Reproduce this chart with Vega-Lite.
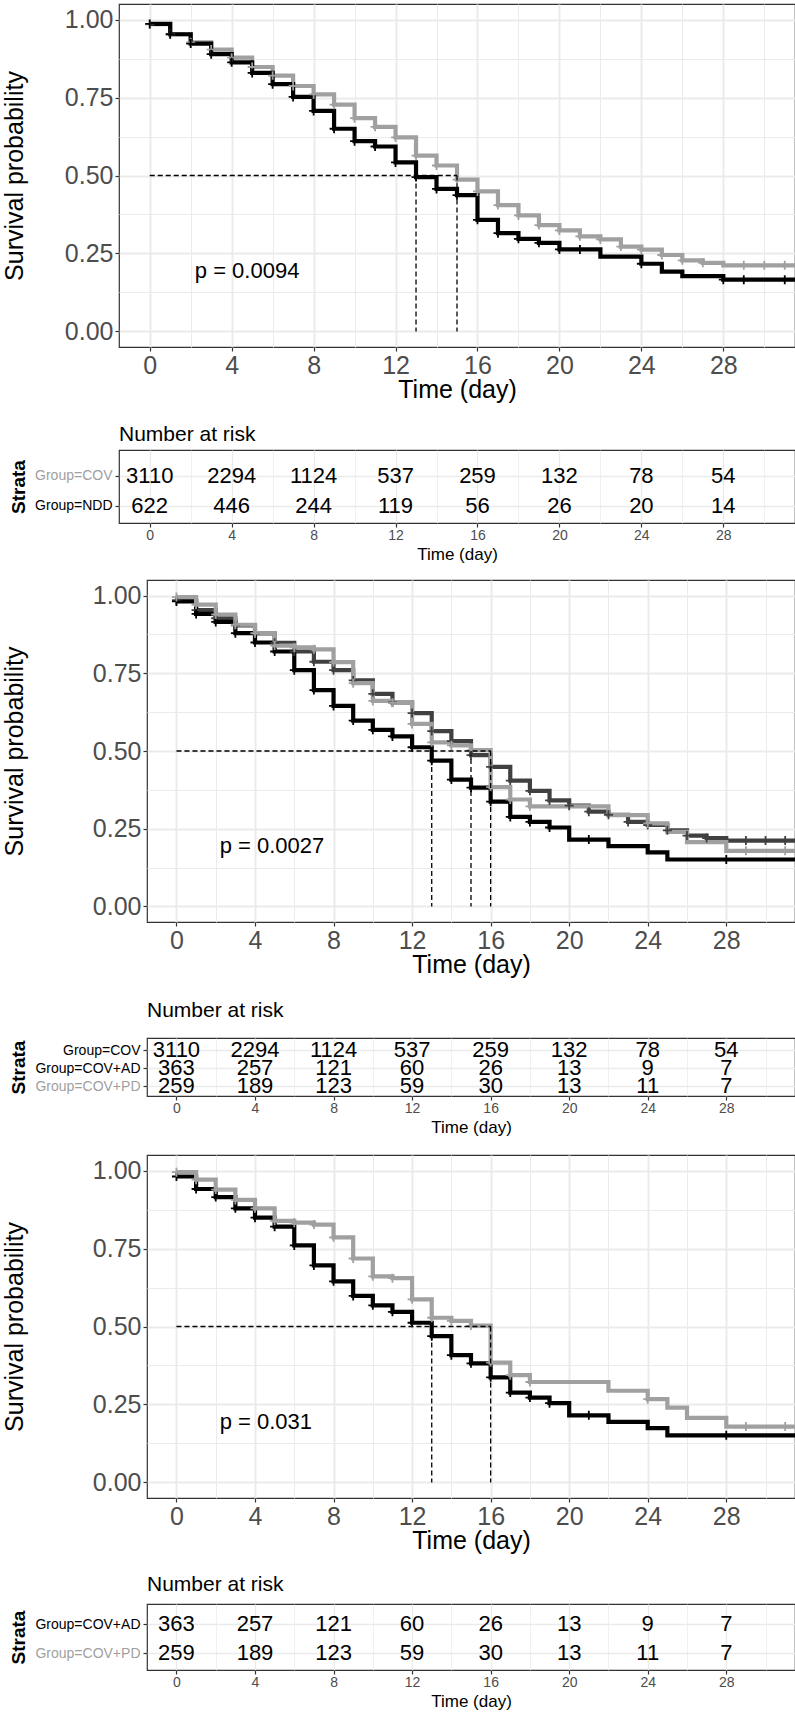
{
"$schema": "https://vega.github.io/schema/vega-lite/v6.json",
"padding": {"left": 0, "top": 3, "right": 0, "bottom": 0},
"spacing": 0,
"resolve": {"scale": {"color": "independent", "x": "independent", "y": "independent"}},
"config": {
  "font": "Liberation Sans",
  "view": {"stroke": "#333333", "strokeWidth": 1.2},
  "axis": {"domain": false, "tickColor": "#333333", "tickWidth": 1.2, "labelColor": "#4D4D4D", "titleColor": "#000000", "titleFontWeight": "normal", "gridColor": "#EBEBEB", "labelFlush": false, "labelOverlap": false}
},
"datasets": {
  "km": [
    {"g":"Group=COV","t":0,"s":0.985,"c":1},{"g":"Group=COV","t":1,"s":0.953,"c":1},{"g":"Group=COV","t":2,"s":0.927,"c":1},{"g":"Group=COV","t":3,"s":0.904,"c":1},{"g":"Group=COV","t":4,"s":0.878,"c":1},{"g":"Group=COV","t":5,"s":0.848,"c":1},{"g":"Group=COV","t":6,"s":0.820,"c":1},{"g":"Group=COV","t":7,"s":0.787,"c":1},{"g":"Group=COV","t":8,"s":0.760,"c":1},{"g":"Group=COV","t":9,"s":0.727,"c":1},{"g":"Group=COV","t":10,"s":0.684,"c":1},{"g":"Group=COV","t":11,"s":0.656,"c":1},{"g":"Group=COV","t":12,"s":0.622,"c":1},{"g":"Group=COV","t":13,"s":0.564,"c":1},{"g":"Group=COV","t":14,"s":0.532,"c":1},{"g":"Group=COV","t":15,"s":0.487,"c":1},{"g":"Group=COV","t":16,"s":0.449,"c":1},{"g":"Group=COV","t":17,"s":0.405,"c":1},{"g":"Group=COV","t":18,"s":0.372,"c":1},{"g":"Group=COV","t":19,"s":0.341,"c":1},{"g":"Group=COV","t":20,"s":0.324,"c":1},{"g":"Group=COV","t":21,"s":0.305,"c":1},{"g":"Group=COV","t":22,"s":0.295,"c":1},{"g":"Group=COV","t":23,"s":0.272,"c":1},{"g":"Group=COV","t":24,"s":0.262,"c":1},{"g":"Group=COV","t":25,"s":0.245,"c":1},{"g":"Group=COV","t":26,"s":0.228,"c":1},{"g":"Group=COV","t":27,"s":0.220,"c":1},{"g":"Group=COV","t":28,"s":0.212,"c":0},{"g":"Group=COV","t":29,"s":0.212,"c":1},{"g":"Group=COV","t":30,"s":0.212,"c":1},{"g":"Group=COV","t":31,"s":0.212,"c":1},{"g":"Group=COV","t":31.5,"s":0.212,"c":0},
    {"g":"Group=NDD","t":0,"s":0.986,"c":1},{"g":"Group=NDD","t":1,"s":0.953,"c":1},{"g":"Group=NDD","t":2,"s":0.923,"c":1},{"g":"Group=NDD","t":3,"s":0.889,"c":1},{"g":"Group=NDD","t":4,"s":0.863,"c":1},{"g":"Group=NDD","t":5,"s":0.829,"c":1},{"g":"Group=NDD","t":6,"s":0.793,"c":1},{"g":"Group=NDD","t":7,"s":0.752,"c":1},{"g":"Group=NDD","t":8,"s":0.707,"c":1},{"g":"Group=NDD","t":9,"s":0.650,"c":1},{"g":"Group=NDD","t":10,"s":0.610,"c":1},{"g":"Group=NDD","t":11,"s":0.593,"c":1},{"g":"Group=NDD","t":12,"s":0.542,"c":1},{"g":"Group=NDD","t":13,"s":0.495,"c":1},{"g":"Group=NDD","t":14,"s":0.457,"c":1},{"g":"Group=NDD","t":15,"s":0.437,"c":1},{"g":"Group=NDD","t":16,"s":0.358,"c":1},{"g":"Group=NDD","t":17,"s":0.315,"c":1},{"g":"Group=NDD","t":18,"s":0.297,"c":1},{"g":"Group=NDD","t":19,"s":0.284,"c":1},{"g":"Group=NDD","t":20,"s":0.263,"c":1},{"g":"Group=NDD","t":21,"s":0.263,"c":1},{"g":"Group=NDD","t":22,"s":0.240,"c":0},{"g":"Group=NDD","t":23,"s":0.240,"c":0},{"g":"Group=NDD","t":24,"s":0.217,"c":1},{"g":"Group=NDD","t":25,"s":0.192,"c":0},{"g":"Group=NDD","t":26,"s":0.177,"c":0},{"g":"Group=NDD","t":27,"s":0.177,"c":0},{"g":"Group=NDD","t":28,"s":0.166,"c":1},{"g":"Group=NDD","t":29,"s":0.166,"c":1},{"g":"Group=NDD","t":30,"s":0.166,"c":0},{"g":"Group=NDD","t":31,"s":0.166,"c":1},{"g":"Group=NDD","t":31.5,"s":0.166,"c":0},
    {"g":"Group=COV+AD","t":0,"s":0.981,"c":1},{"g":"Group=COV+AD","t":1,"s":0.941,"c":1},{"g":"Group=COV+AD","t":2,"s":0.915,"c":1},{"g":"Group=COV+AD","t":3,"s":0.879,"c":1},{"g":"Group=COV+AD","t":4,"s":0.849,"c":1},{"g":"Group=COV+AD","t":5,"s":0.820,"c":1},{"g":"Group=COV+AD","t":6,"s":0.760,"c":1},{"g":"Group=COV+AD","t":7,"s":0.696,"c":1},{"g":"Group=COV+AD","t":8,"s":0.645,"c":1},{"g":"Group=COV+AD","t":9,"s":0.598,"c":1},{"g":"Group=COV+AD","t":10,"s":0.568,"c":1},{"g":"Group=COV+AD","t":11,"s":0.547,"c":1},{"g":"Group=COV+AD","t":12,"s":0.512,"c":1},{"g":"Group=COV+AD","t":13,"s":0.469,"c":1},{"g":"Group=COV+AD","t":14,"s":0.408,"c":1},{"g":"Group=COV+AD","t":15,"s":0.382,"c":1},{"g":"Group=COV+AD","t":16,"s":0.337,"c":1},{"g":"Group=COV+AD","t":17,"s":0.288,"c":1},{"g":"Group=COV+AD","t":18,"s":0.272,"c":1},{"g":"Group=COV+AD","t":19,"s":0.254,"c":1},{"g":"Group=COV+AD","t":20,"s":0.215,"c":0},{"g":"Group=COV+AD","t":21,"s":0.215,"c":1},{"g":"Group=COV+AD","t":22,"s":0.194,"c":0},{"g":"Group=COV+AD","t":23,"s":0.194,"c":0},{"g":"Group=COV+AD","t":24,"s":0.174,"c":0},{"g":"Group=COV+AD","t":25,"s":0.151,"c":0},{"g":"Group=COV+AD","t":26,"s":0.151,"c":0},{"g":"Group=COV+AD","t":27,"s":0.151,"c":0},{"g":"Group=COV+AD","t":28,"s":0.151,"c":1},{"g":"Group=COV+AD","t":29,"s":0.151,"c":0},{"g":"Group=COV+AD","t":30,"s":0.151,"c":0},{"g":"Group=COV+AD","t":31,"s":0.151,"c":0},{"g":"Group=COV+AD","t":31.5,"s":0.151,"c":0},
    {"g":"Group=COV+PD","t":0,"s":0.995,"c":1},{"g":"Group=COV+PD","t":1,"s":0.971,"c":1},{"g":"Group=COV+PD","t":2,"s":0.939,"c":1},{"g":"Group=COV+PD","t":3,"s":0.906,"c":1},{"g":"Group=COV+PD","t":4,"s":0.879,"c":1},{"g":"Group=COV+PD","t":5,"s":0.839,"c":1},{"g":"Group=COV+PD","t":6,"s":0.833,"c":1},{"g":"Group=COV+PD","t":7,"s":0.827,"c":1},{"g":"Group=COV+PD","t":8,"s":0.786,"c":1},{"g":"Group=COV+PD","t":9,"s":0.718,"c":1},{"g":"Group=COV+PD","t":10,"s":0.661,"c":1},{"g":"Group=COV+PD","t":11,"s":0.655,"c":1},{"g":"Group=COV+PD","t":12,"s":0.587,"c":1},{"g":"Group=COV+PD","t":13,"s":0.528,"c":1},{"g":"Group=COV+PD","t":14,"s":0.518,"c":1},{"g":"Group=COV+PD","t":15,"s":0.503,"c":1},{"g":"Group=COV+PD","t":16,"s":0.384,"c":1},{"g":"Group=COV+PD","t":17,"s":0.344,"c":1},{"g":"Group=COV+PD","t":18,"s":0.322,"c":1},{"g":"Group=COV+PD","t":19,"s":0.322,"c":0},{"g":"Group=COV+PD","t":20,"s":0.322,"c":0},{"g":"Group=COV+PD","t":21,"s":0.322,"c":0},{"g":"Group=COV+PD","t":22,"s":0.294,"c":0},{"g":"Group=COV+PD","t":23,"s":0.294,"c":0},{"g":"Group=COV+PD","t":24,"s":0.267,"c":1},{"g":"Group=COV+PD","t":25,"s":0.240,"c":0},{"g":"Group=COV+PD","t":26,"s":0.207,"c":0},{"g":"Group=COV+PD","t":27,"s":0.207,"c":0},{"g":"Group=COV+PD","t":28,"s":0.179,"c":0},{"g":"Group=COV+PD","t":29,"s":0.179,"c":1},{"g":"Group=COV+PD","t":30,"s":0.179,"c":0},{"g":"Group=COV+PD","t":31,"s":0.179,"c":1},{"g":"Group=COV+PD","t":31.5,"s":0.179,"c":0}
  ],
  "med": [
    {"p":1,"t":0,"t2":15,"s":0.5,"s2":0.5},{"p":1,"t":13,"t2":13,"s":0.5,"s2":0},{"p":1,"t":15,"t2":15,"s":0.5,"s2":0},
    {"p":2,"t":0,"t2":16,"s":0.5,"s2":0.5},{"p":2,"t":13,"t2":13,"s":0.5,"s2":0},{"p":2,"t":15,"t2":15,"s":0.5,"s2":0},{"p":2,"t":16,"t2":16,"s":0.5,"s2":0},
    {"p":3,"t":0,"t2":16,"s":0.5,"s2":0.5},{"p":3,"t":13,"t2":13,"s":0.5,"s2":0},{"p":3,"t":16,"t2":16,"s":0.5,"s2":0}
  ],
  "pv": [
    {"p":1,"t":2.2,"s":0.195,"label":"p = 0.0094"},
    {"p":2,"t":2.2,"s":0.195,"label":"p = 0.0027"},
    {"p":3,"t":2.2,"s":0.195,"label":"p = 0.031"}
  ],
  "risk": [
    {"g":"Group=COV","t":0,"n":3110},{"g":"Group=COV","t":4,"n":2294},{"g":"Group=COV","t":8,"n":1124},{"g":"Group=COV","t":12,"n":537},{"g":"Group=COV","t":16,"n":259},{"g":"Group=COV","t":20,"n":132},{"g":"Group=COV","t":24,"n":78},{"g":"Group=COV","t":28,"n":54},
    {"g":"Group=NDD","t":0,"n":622},{"g":"Group=NDD","t":4,"n":446},{"g":"Group=NDD","t":8,"n":244},{"g":"Group=NDD","t":12,"n":119},{"g":"Group=NDD","t":16,"n":56},{"g":"Group=NDD","t":20,"n":26},{"g":"Group=NDD","t":24,"n":20},{"g":"Group=NDD","t":28,"n":14},
    {"g":"Group=COV+AD","t":0,"n":363},{"g":"Group=COV+AD","t":4,"n":257},{"g":"Group=COV+AD","t":8,"n":121},{"g":"Group=COV+AD","t":12,"n":60},{"g":"Group=COV+AD","t":16,"n":26},{"g":"Group=COV+AD","t":20,"n":13},{"g":"Group=COV+AD","t":24,"n":9},{"g":"Group=COV+AD","t":28,"n":7},
    {"g":"Group=COV+PD","t":0,"n":259},{"g":"Group=COV+PD","t":4,"n":189},{"g":"Group=COV+PD","t":8,"n":123},{"g":"Group=COV+PD","t":12,"n":59},{"g":"Group=COV+PD","t":16,"n":30},{"g":"Group=COV+PD","t":20,"n":13},{"g":"Group=COV+PD","t":24,"n":11},{"g":"Group=COV+PD","t":28,"n":7}
  ]
},
"vconcat": [
  {"spacing": 0, "resolve": {"scale": {"color": "independent"}}, "hconcat": [
    {"width": 1, "height": 419, "data": {"values": []}, "mark": {"type": "point", "opacity": 0}, "view": {"stroke": null}},
    {"width": 676, "height": 343,
     "layer": [
      {"data": {"name": "km"},
       "transform": [{"filter": {"field": "g", "oneOf": ["Group=COV", "Group=NDD"]}}],
       "mark": {"type": "line", "interpolate": "step-after", "strokeWidth": 4.2},
       "encoding": {
         "x": {"field": "t", "type": "quantitative", "title": "Time (day)", "scale": {"domain": [-1.5, 31.5], "nice": false, "zero": false},
               "axis": {"titleFontSize": 25, "titleBaseline": "alphabetic", "titleY": 50, "values": [0,2,4,6,8,10,12,14,16,18,20,22,24,26,28,30], "format": "d", "labelExpr": "datum.value % 4 === 0 ? datum.label : ''", "labelFontSize": 25, "labelPadding": 2, "tickSize": 4, "tickOpacity": {"condition": {"test": "datum.value % 4 !== 0", "value": 0}, "value": 1}, "grid": true, "gridWidth": {"condition": {"test": "datum.value % 4 !== 0", "value": 1}, "value": 2}}},
         "y": {"field": "s", "type": "quantitative", "title": "Survival probability", "scale": {"domain": [-0.05, 1.05], "nice": false, "zero": false},
               "axis": {"titleFontSize": 25, "titleX": -92, "titleAngle": 270, "titleBaseline": "bottom", "titleAlign": "center", "values": [0,0.125,0.25,0.375,0.5,0.625,0.75,0.875,1], "labelExpr": "datum.value * 8 % 2 === 0 ? format(datum.value, '.2f') : ''", "labelFontSize": 25, "labelPadding": 2, "tickSize": 4, "tickOpacity": {"condition": {"test": "datum.value * 8 % 2 !== 0", "value": 0}, "value": 1}, "grid": true, "gridWidth": {"condition": {"test": "datum.value * 8 % 2 !== 0", "value": 1}, "value": 2}}},
         "color": {"field": "g", "type": "nominal", "scale": {"domain": ["Group=COV", "Group=NDD"], "range": ["#A0A0A0", "#000000"]}, "legend": null}
       }},
      {"data": {"name": "km"},
       "transform": [{"filter": {"field": "g", "oneOf": ["Group=COV", "Group=NDD"]}}, {"filter": "datum.c === 1"}],
       "mark": {"type": "point", "shape": "M-1,0L1,0M0,-1L0,1", "filled": false, "size": 81, "strokeWidth": 1.8, "opacity": 1},
       "encoding": {
         "x": {"field": "t", "type": "quantitative", "title": "Time (day)", "scale": {"domain": [-1.5, 31.5], "nice": false, "zero": false}},
         "y": {"field": "s", "type": "quantitative", "title": "Survival probability", "scale": {"domain": [-0.05, 1.05], "nice": false, "zero": false}},
         "color": {"field": "g", "type": "nominal", "scale": {"domain": ["Group=COV", "Group=NDD"], "range": ["#A0A0A0", "#000000"]}, "legend": null}
       }},
      {"data": {"name": "med"},
       "transform": [{"filter": "datum.p === 1"}],
       "mark": {"type": "rule", "strokeDash": [5, 3], "strokeWidth": 1.3, "color": "#000000"},
       "encoding": {
         "x": {"field": "t", "type": "quantitative", "title": "Time (day)", "scale": {"domain": [-1.5, 31.5], "nice": false, "zero": false}},
         "x2": {"field": "t2"},
         "y": {"field": "s", "type": "quantitative", "title": "Survival probability", "scale": {"domain": [-0.05, 1.05], "nice": false, "zero": false}},
         "y2": {"field": "s2"}
       }},
      {"data": {"name": "pv"},
       "transform": [{"filter": "datum.p === 1"}],
       "mark": {"type": "text", "align": "left", "baseline": "middle", "fontSize": 22, "color": "#000000"},
       "encoding": {
         "x": {"field": "t", "type": "quantitative", "title": "Time (day)", "scale": {"domain": [-1.5, 31.5], "nice": false, "zero": false}},
         "y": {"field": "s", "type": "quantitative", "title": "Survival probability", "scale": {"domain": [-0.05, 1.05], "nice": false, "zero": false}},
         "text": {"field": "label", "type": "nominal"}
       }}
     ]}
  ]},
  {"spacing": 0, "resolve": {"scale": {"color": "independent"}}, "hconcat": [
    {"width": 8, "height": 129, "data": {"values": []}, "mark": {"type": "point", "opacity": 0}, "view": {"stroke": null}},
    {"width": 676, "height": 73,
     "title": {"text": "Number at risk", "anchor": "start", "frame": "group", "fontSize": 21, "fontWeight": "normal", "color": "#000000", "offset": 5},
     "data": {"name": "risk"},
     "transform": [{"filter": {"field": "g", "oneOf": ["Group=COV", "Group=NDD"]}}],
     "mark": {"type": "text", "fontSize": 22, "color": "#000000"},
     "encoding": {
       "x": {"field": "t", "type": "quantitative", "title": "Time (day)", "scale": {"domain": [-1.5, 31.5], "nice": false, "zero": false},
             "axis": {"titleFontSize": 17, "titleBaseline": "alphabetic", "titleY": 36, "values": [0,2,4,6,8,10,12,14,16,18,20,22,24,26,28,30], "format": "d", "labelExpr": "datum.value % 4 === 0 ? datum.label : ''", "labelFontSize": 14, "labelPadding": 1, "tickSize": 4, "tickOpacity": {"condition": {"test": "datum.value % 4 !== 0", "value": 0}, "value": 1}, "grid": true, "gridWidth": {"condition": {"test": "datum.value % 4 !== 0", "value": 0.7}, "value": 1.3}}},
       "y": {"field": "g", "type": "nominal", "title": "Strata", "scale": {"type": "point", "domain": ["Group=COV", "Group=NDD"], "padding": 0.72, "align": 0.6},
             "axis": {"titleFontSize": 19, "titleFontWeight": "bold", "titleX": -91, "titleAngle": 270, "titleBaseline": "bottom", "titleAlign": "center", "labelFontSize": 14, "labelPadding": 3, "tickSize": 4, "labelColor": {"condition": {"test": "datum.value === 'Group=COV'", "value": "#A0A0A0"}, "value": "#000000"}, "grid": true, "gridWidth": 1.3}},
       "text": {"field": "n", "type": "nominal"}
     }}
  ]},
  {"spacing": 0, "resolve": {"scale": {"color": "independent"}}, "hconcat": [
    {"width": 1, "height": 419, "data": {"values": []}, "mark": {"type": "point", "opacity": 0}, "view": {"stroke": null}},
    {"width": 648, "height": 342,
     "layer": [
      {"data": {"name": "km"},
       "transform": [{"filter": {"field": "g", "oneOf": ["Group=COV", "Group=COV+AD", "Group=COV+PD"]}}],
       "mark": {"type": "line", "interpolate": "step-after", "strokeWidth": 4.2},
       "encoding": {
         "x": {"field": "t", "type": "quantitative", "title": "Time (day)", "scale": {"domain": [-1.5, 31.5], "nice": false, "zero": false},
               "axis": {"titleFontSize": 25, "titleBaseline": "alphabetic", "titleY": 50, "values": [0,2,4,6,8,10,12,14,16,18,20,22,24,26,28,30], "format": "d", "labelExpr": "datum.value % 4 === 0 ? datum.label : ''", "labelFontSize": 25, "labelPadding": 2, "tickSize": 4, "tickOpacity": {"condition": {"test": "datum.value % 4 !== 0", "value": 0}, "value": 1}, "grid": true, "gridWidth": {"condition": {"test": "datum.value % 4 !== 0", "value": 1}, "value": 2}}},
         "y": {"field": "s", "type": "quantitative", "title": "Survival probability", "scale": {"domain": [-0.05, 1.05], "nice": false, "zero": false},
               "axis": {"titleFontSize": 25, "titleX": -120, "titleAngle": 270, "titleBaseline": "bottom", "titleAlign": "center", "values": [0,0.125,0.25,0.375,0.5,0.625,0.75,0.875,1], "labelExpr": "datum.value * 8 % 2 === 0 ? format(datum.value, '.2f') : ''", "labelFontSize": 25, "labelPadding": 2, "tickSize": 4, "tickOpacity": {"condition": {"test": "datum.value * 8 % 2 !== 0", "value": 0}, "value": 1}, "grid": true, "gridWidth": {"condition": {"test": "datum.value * 8 % 2 !== 0", "value": 1}, "value": 2}}},
         "color": {"field": "g", "type": "nominal", "scale": {"domain": ["Group=COV", "Group=COV+AD", "Group=COV+PD"], "range": ["#404040", "#000000", "#A0A0A0"]}, "legend": null}
       }},
      {"data": {"name": "km"},
       "transform": [{"filter": {"field": "g", "oneOf": ["Group=COV", "Group=COV+AD", "Group=COV+PD"]}}, {"filter": "datum.c === 1"}],
       "mark": {"type": "point", "shape": "M-1,0L1,0M0,-1L0,1", "filled": false, "size": 81, "strokeWidth": 1.8, "opacity": 1},
       "encoding": {
         "x": {"field": "t", "type": "quantitative", "title": "Time (day)", "scale": {"domain": [-1.5, 31.5], "nice": false, "zero": false}},
         "y": {"field": "s", "type": "quantitative", "title": "Survival probability", "scale": {"domain": [-0.05, 1.05], "nice": false, "zero": false}},
         "color": {"field": "g", "type": "nominal", "scale": {"domain": ["Group=COV", "Group=COV+AD", "Group=COV+PD"], "range": ["#404040", "#000000", "#A0A0A0"]}, "legend": null}
       }},
      {"data": {"name": "med"},
       "transform": [{"filter": "datum.p === 2"}],
       "mark": {"type": "rule", "strokeDash": [5, 3], "strokeWidth": 1.3, "color": "#000000"},
       "encoding": {
         "x": {"field": "t", "type": "quantitative", "title": "Time (day)", "scale": {"domain": [-1.5, 31.5], "nice": false, "zero": false}},
         "x2": {"field": "t2"},
         "y": {"field": "s", "type": "quantitative", "title": "Survival probability", "scale": {"domain": [-0.05, 1.05], "nice": false, "zero": false}},
         "y2": {"field": "s2"}
       }},
      {"data": {"name": "pv"},
       "transform": [{"filter": "datum.p === 2"}],
       "mark": {"type": "text", "align": "left", "baseline": "middle", "fontSize": 22, "color": "#000000"},
       "encoding": {
         "x": {"field": "t", "type": "quantitative", "title": "Time (day)", "scale": {"domain": [-1.5, 31.5], "nice": false, "zero": false}},
         "y": {"field": "s", "type": "quantitative", "title": "Survival probability", "scale": {"domain": [-0.05, 1.05], "nice": false, "zero": false}},
         "text": {"field": "label", "type": "nominal"}
       }}
     ]}
  ]},
  {"spacing": 0, "resolve": {"scale": {"color": "independent"}}, "hconcat": [
    {"width": 8, "height": 116, "data": {"values": []}, "mark": {"type": "point", "opacity": 0}, "view": {"stroke": null}},
    {"width": 648, "height": 58,
     "title": {"text": "Number at risk", "anchor": "start", "frame": "group", "fontSize": 21, "fontWeight": "normal", "color": "#000000", "offset": 17},
     "data": {"name": "risk"},
     "transform": [{"filter": {"field": "g", "oneOf": ["Group=COV", "Group=COV+AD", "Group=COV+PD"]}}],
     "mark": {"type": "text", "fontSize": 22, "color": "#000000"},
     "encoding": {
       "x": {"field": "t", "type": "quantitative", "title": "Time (day)", "scale": {"domain": [-1.5, 31.5], "nice": false, "zero": false},
             "axis": {"titleFontSize": 17, "titleBaseline": "alphabetic", "titleY": 36, "values": [0,2,4,6,8,10,12,14,16,18,20,22,24,26,28,30], "format": "d", "labelExpr": "datum.value % 4 === 0 ? datum.label : ''", "labelFontSize": 14, "labelPadding": 1, "tickSize": 4, "tickOpacity": {"condition": {"test": "datum.value % 4 !== 0", "value": 0}, "value": 1}, "grid": true, "gridWidth": {"condition": {"test": "datum.value % 4 !== 0", "value": 0.7}, "value": 1.3}}},
       "y": {"field": "g", "type": "nominal", "title": "Strata", "scale": {"type": "point", "domain": ["Group=COV", "Group=COV+AD", "Group=COV+PD"], "padding": 0.61, "align": 0.56},
             "axis": {"titleFontSize": 19, "titleFontWeight": "bold", "titleX": -119, "titleAngle": 270, "titleBaseline": "bottom", "titleAlign": "center", "labelFontSize": 14, "labelPadding": 3, "tickSize": 4, "labelColor": {"condition": {"test": "datum.value === 'Group=COV+PD'", "value": "#A0A0A0"}, "value": "#000000"}, "grid": true, "gridWidth": 1.3}},
       "text": {"field": "n", "type": "nominal"}
     }}
  ]},
  {"spacing": 0, "resolve": {"scale": {"color": "independent"}}, "hconcat": [
    {"width": 1, "height": 418, "data": {"values": []}, "mark": {"type": "point", "opacity": 0}, "view": {"stroke": null}},
    {"width": 648, "height": 343,
     "layer": [
      {"data": {"name": "km"},
       "transform": [{"filter": {"field": "g", "oneOf": ["Group=COV+AD", "Group=COV+PD"]}}],
       "mark": {"type": "line", "interpolate": "step-after", "strokeWidth": 4.2},
       "encoding": {
         "x": {"field": "t", "type": "quantitative", "title": "Time (day)", "scale": {"domain": [-1.5, 31.5], "nice": false, "zero": false},
               "axis": {"titleFontSize": 25, "titleBaseline": "alphabetic", "titleY": 50, "values": [0,2,4,6,8,10,12,14,16,18,20,22,24,26,28,30], "format": "d", "labelExpr": "datum.value % 4 === 0 ? datum.label : ''", "labelFontSize": 25, "labelPadding": 2, "tickSize": 4, "tickOpacity": {"condition": {"test": "datum.value % 4 !== 0", "value": 0}, "value": 1}, "grid": true, "gridWidth": {"condition": {"test": "datum.value % 4 !== 0", "value": 1}, "value": 2}}},
         "y": {"field": "s", "type": "quantitative", "title": "Survival probability", "scale": {"domain": [-0.05, 1.05], "nice": false, "zero": false},
               "axis": {"titleFontSize": 25, "titleX": -120, "titleAngle": 270, "titleBaseline": "bottom", "titleAlign": "center", "values": [0,0.125,0.25,0.375,0.5,0.625,0.75,0.875,1], "labelExpr": "datum.value * 8 % 2 === 0 ? format(datum.value, '.2f') : ''", "labelFontSize": 25, "labelPadding": 2, "tickSize": 4, "tickOpacity": {"condition": {"test": "datum.value * 8 % 2 !== 0", "value": 0}, "value": 1}, "grid": true, "gridWidth": {"condition": {"test": "datum.value * 8 % 2 !== 0", "value": 1}, "value": 2}}},
         "color": {"field": "g", "type": "nominal", "scale": {"domain": ["Group=COV+AD", "Group=COV+PD"], "range": ["#000000", "#A0A0A0"]}, "legend": null}
       }},
      {"data": {"name": "km"},
       "transform": [{"filter": {"field": "g", "oneOf": ["Group=COV+AD", "Group=COV+PD"]}}, {"filter": "datum.c === 1"}],
       "mark": {"type": "point", "shape": "M-1,0L1,0M0,-1L0,1", "filled": false, "size": 81, "strokeWidth": 1.8, "opacity": 1},
       "encoding": {
         "x": {"field": "t", "type": "quantitative", "title": "Time (day)", "scale": {"domain": [-1.5, 31.5], "nice": false, "zero": false}},
         "y": {"field": "s", "type": "quantitative", "title": "Survival probability", "scale": {"domain": [-0.05, 1.05], "nice": false, "zero": false}},
         "color": {"field": "g", "type": "nominal", "scale": {"domain": ["Group=COV+AD", "Group=COV+PD"], "range": ["#000000", "#A0A0A0"]}, "legend": null}
       }},
      {"data": {"name": "med"},
       "transform": [{"filter": "datum.p === 3"}],
       "mark": {"type": "rule", "strokeDash": [5, 3], "strokeWidth": 1.3, "color": "#000000"},
       "encoding": {
         "x": {"field": "t", "type": "quantitative", "title": "Time (day)", "scale": {"domain": [-1.5, 31.5], "nice": false, "zero": false}},
         "x2": {"field": "t2"},
         "y": {"field": "s", "type": "quantitative", "title": "Survival probability", "scale": {"domain": [-0.05, 1.05], "nice": false, "zero": false}},
         "y2": {"field": "s2"}
       }},
      {"data": {"name": "pv"},
       "transform": [{"filter": "datum.p === 3"}],
       "mark": {"type": "text", "align": "left", "baseline": "middle", "fontSize": 22, "color": "#000000"},
       "encoding": {
         "x": {"field": "t", "type": "quantitative", "title": "Time (day)", "scale": {"domain": [-1.5, 31.5], "nice": false, "zero": false}},
         "y": {"field": "s", "type": "quantitative", "title": "Survival probability", "scale": {"domain": [-0.05, 1.05], "nice": false, "zero": false}},
         "text": {"field": "label", "type": "nominal"}
       }}
     ]}
  ]},
  {"spacing": 0, "resolve": {"scale": {"color": "independent"}}, "hconcat": [
    {"width": 8, "height": 1, "data": {"values": []}, "mark": {"type": "point", "opacity": 0}, "view": {"stroke": null}},
    {"width": 648, "height": 66,
     "title": {"text": "Number at risk", "anchor": "start", "frame": "group", "fontSize": 21, "fontWeight": "normal", "color": "#000000", "offset": 9},
     "data": {"name": "risk"},
     "transform": [{"filter": {"field": "g", "oneOf": ["Group=COV+AD", "Group=COV+PD"]}}],
     "mark": {"type": "text", "fontSize": 22, "color": "#000000"},
     "encoding": {
       "x": {"field": "t", "type": "quantitative", "title": "Time (day)", "scale": {"domain": [-1.5, 31.5], "nice": false, "zero": false},
             "axis": {"titleFontSize": 17, "titleBaseline": "alphabetic", "titleY": 36, "values": [0,2,4,6,8,10,12,14,16,18,20,22,24,26,28,30], "format": "d", "labelExpr": "datum.value % 4 === 0 ? datum.label : ''", "labelFontSize": 14, "labelPadding": 1, "tickSize": 4, "tickOpacity": {"condition": {"test": "datum.value % 4 !== 0", "value": 0}, "value": 1}, "grid": true, "gridWidth": {"condition": {"test": "datum.value % 4 !== 0", "value": 0.7}, "value": 1.3}}},
       "y": {"field": "g", "type": "nominal", "title": "Strata", "scale": {"type": "point", "domain": ["Group=COV+AD", "Group=COV+PD"], "padding": 0.64, "align": 0.55},
             "axis": {"titleFontSize": 19, "titleFontWeight": "bold", "titleX": -119, "titleAngle": 270, "titleBaseline": "bottom", "titleAlign": "center", "labelFontSize": 14, "labelPadding": 3, "tickSize": 4, "labelColor": {"condition": {"test": "datum.value === 'Group=COV+PD'", "value": "#A0A0A0"}, "value": "#000000"}, "grid": true, "gridWidth": 1.3}},
       "text": {"field": "n", "type": "nominal"}
     }}
  ]}
]
}
